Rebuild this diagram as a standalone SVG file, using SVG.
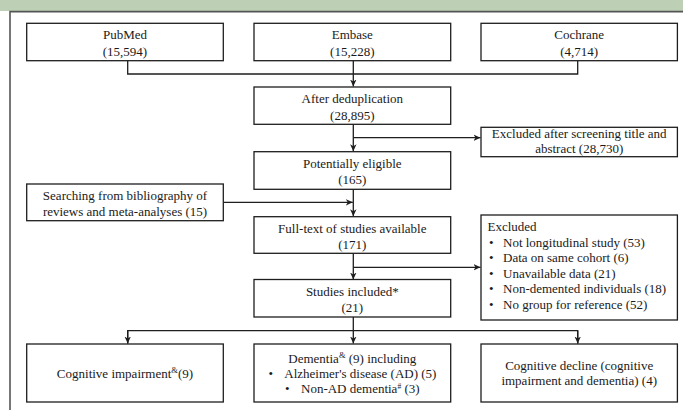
<svg xmlns="http://www.w3.org/2000/svg" width="683" height="413" viewBox="0 0 683 413">
<style>
.box{fill:#fff;stroke:#1e1e1e;stroke-width:1.3}
.t{font-family:"Liberation Serif","Times New Roman",serif;font-size:13px;fill:#1a1a1a}
.c{text-anchor:middle}
.ln{fill:none;stroke:#1e1e1e;stroke-width:1.3}
</style>
<defs>
<marker id="ah" markerUnits="userSpaceOnUse" markerWidth="8" markerHeight="8" refX="7" refY="4" orient="auto">
<path d="M0,0.8 L7,4 L0,7.2 L2,4 Z" fill="#1e1e1e"/>
</marker>
</defs>
<rect x="0" y="0" width="683" height="11" fill="#bdd0b5"/>
<path d="M10,410 V11.6 H683" fill="none" stroke="#555" stroke-width="1.6"/>

<g id="connectors">
<path class="ln" d="M127.7,60.7 V74 H577.7 V60.7"/>
<path class="ln" d="M353.3,60.7 V86.5" marker-end="url(#ah)"/>
<path class="ln" d="M353.3,124.3 V151.2" marker-end="url(#ah)"/>
<path class="ln" d="M353.3,137.7 H480.5" marker-end="url(#ah)"/>
<path class="ln" d="M223.3,202.3 H352.8" marker-end="url(#ah)"/>
<path class="ln" d="M353.3,189.3 V216.2" marker-end="url(#ah)"/>
<path class="ln" d="M353.3,253.3 V279.5" marker-end="url(#ah)"/>
<path class="ln" d="M353.3,267.3 H480.5" marker-end="url(#ah)"/>
<path class="ln" d="M353.3,317 V343.5" marker-end="url(#ah)"/>
<path class="ln" d="M127.7,343.5 V330.7 H577.7 V343.5"/>
<path class="ln" d="M127.7,330.7 V343.5" marker-end="url(#ah)"/>
<path class="ln" d="M577.7,330.7 V343.5" marker-end="url(#ah)"/>
</g>

<g id="pubmed">
<rect class="box" x="26.7" y="23.3" width="196.6" height="37.4"/>
<text class="t c" x="125" y="39">PubMed</text>
<text class="t c" x="125" y="55.5">(15,594)</text>
</g>
<g id="embase">
<rect class="box" x="254" y="23.3" width="196.7" height="37.4"/>
<text class="t c" x="352.3" y="39">Embase</text>
<text class="t c" x="352.3" y="55.5">(15,228)</text>
</g>
<g id="cochrane">
<rect class="box" x="481" y="23.3" width="196.4" height="37.4"/>
<text class="t c" x="579.2" y="39">Cochrane</text>
<text class="t c" x="579.2" y="55.5">(4,714)</text>
</g>
<g id="dedup">
<rect class="box" x="254" y="87" width="196.7" height="37.3"/>
<text class="t c" x="352.3" y="103">After deduplication</text>
<text class="t c" x="352.3" y="119.5">(28,895)</text>
</g>
<g id="excluded1">
<rect class="box" x="481" y="127.3" width="196.4" height="29.4"/>
<text class="t c" x="579.2" y="138.3">Excluded after screening title and</text>
<text class="t c" x="579.2" y="153.3">abstract (28,730)</text>
</g>
<g id="eligible">
<rect class="box" x="254" y="151.7" width="196.7" height="37.6"/>
<text class="t c" x="352.3" y="167.5">Potentially eligible</text>
<text class="t c" x="352.3" y="183.5">(165)</text>
</g>
<g id="searching">
<rect class="box" x="26.7" y="184" width="196.6" height="36.7"/>
<text class="t c" x="125" y="200">Searching from bibliography of</text>
<text class="t c" x="125" y="215.5">reviews and meta-analyses (15)</text>
</g>
<g id="fulltext">
<rect class="box" x="254" y="216.7" width="196.7" height="36.6"/>
<text class="t c" x="352.3" y="232.5">Full-text of studies available</text>
<text class="t c" x="352.3" y="248.5">(171)</text>
</g>
<g id="excluded2">
<rect class="box" x="481" y="215" width="196.4" height="105"/>
<text class="t" x="487.5" y="231">Excluded</text>
<text class="t" x="489" y="246.5">•<tspan x="503">Not longitudinal study (53)</tspan></text>
<text class="t" x="489" y="262">•<tspan x="503">Data on same cohort (6)</tspan></text>
<text class="t" x="489" y="277.5">•<tspan x="503">Unavailable data (21)</tspan></text>
<text class="t" x="489" y="293">•<tspan x="503">Non-demented individuals (18)</tspan></text>
<text class="t" x="489" y="308.5">•<tspan x="503">No group for reference (52)</tspan></text>
</g>
<g id="included">
<rect class="box" x="254" y="279.5" width="196.7" height="37.5"/>
<text class="t c" x="352.3" y="296">Studies included*</text>
<text class="t c" x="352.3" y="312">(21)</text>
</g>
<g id="impairment">
<rect class="box" x="26.7" y="344" width="196.6" height="58"/>
<text class="t c" x="125" y="377.5">Cognitive impairment<tspan font-size="8.5" dy="-4.5">&amp;</tspan><tspan dy="4.5">(9)</tspan></text>
</g>
<g id="dementia">
<rect class="box" x="254" y="344" width="196.7" height="58"/>
<text class="t c" x="352.3" y="362.5">Dementia<tspan font-size="8.5" dy="-4.5">&amp;</tspan><tspan dy="4.5"> (9) including</tspan></text>
<text class="t" x="268.5" y="377.8">•<tspan x="284.3">Alzheimer's disease (AD) (5)</tspan></text>
<text class="t" x="285" y="393">•<tspan x="301">Non-AD dementia</tspan><tspan font-size="7.5" dy="-4.5">#</tspan><tspan dy="4.5"> (3)</tspan></text>
</g>
<g id="decline">
<rect class="box" x="481" y="344" width="196.4" height="58"/>
<text class="t c" x="579.2" y="369.5">Cognitive decline (cognitive</text>
<text class="t c" x="579.2" y="385">impairment and dementia) (4)</text>
</g>
</svg>
